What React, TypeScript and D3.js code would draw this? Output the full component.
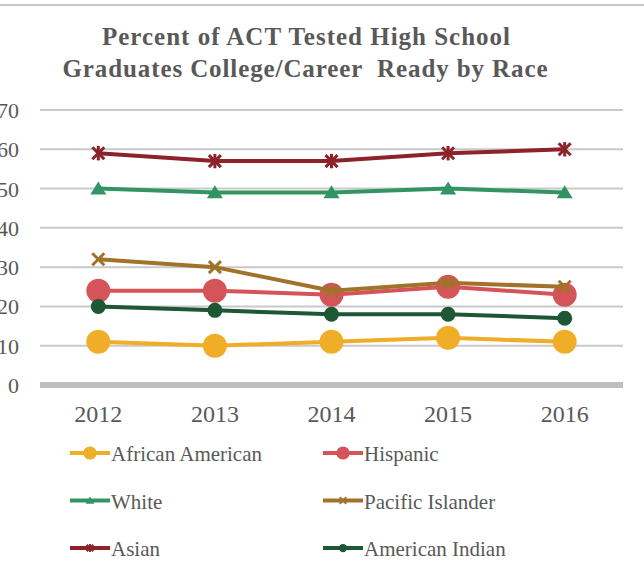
import React from 'react';
import * as d3 from 'd3';

const years = ['2012', '2013', '2014', '2015', '2016'];
const yTicks = [0, 10, 20, 30, 40, 50, 60, 70];

const africanAmerican = [11, 10, 11, 12, 11];
const hispanic = [24, 24, 23, 25, 23];
const white = [50, 49, 49, 50, 49];
const pacificIslander = [32, 30, 24, 26, 25];
const asian = [59, 57, 57, 59, 60];
const americanIndian = [20, 19, 18, 18, 17];

const seriesNames = ['African American', 'Hispanic', 'White', 'Pacific Islander', 'Asian', 'American Indian'];
const seriesColors = ['#F0AD28', '#D45459', '#339463', '#A1722A', '#8C232A', '#1D5733'];
const seriesMarkers = ['bigCircle', 'bigCircle', 'triangle', 'x', 'star', 'smallCircle'];
const seriesValues = [africanAmerican, hispanic, white, pacificIslander, asian, americanIndian];

const W = 644;
const H = 565;
const TEXT = '#595959';
const font = (size: number, bold = false) => ({
  fontFamily: "'Liberation Serif', serif",
  fontSize: size,
  fontWeight: bold ? 700 : 400,
});

const Marker = ({ kind, x, y, color, s = 1 }: { kind: string; x: number; y: number; color: string; s?: number }) => {
  if (kind === 'bigCircle') return <circle cx={x} cy={y} r={12 * s} fill={color} />;
  if (kind === 'smallCircle') return <circle cx={x} cy={y} r={7.5 * s} fill={color} />;
  if (kind === 'triangle') {
    const w = 8 * s;
    const h = 13 * s;
    return <path d={`M${x},${y - h * 0.55} L${x + w},${y + h * 0.45} L${x - w},${y + h * 0.45} Z`} fill={color} />;
  }
  const r = 6 * s;
  return (
    <g stroke={color} strokeWidth={s < 1 ? 2 : 3} fill="none">
      <line x1={x - r} y1={y - r} x2={x + r} y2={y + r} />
      <line x1={x - r} y1={y + r} x2={x + r} y2={y - r} />
      {kind === 'star' && <line x1={x} y1={y - r * 1.2} x2={x} y2={y + r * 1.2} />}
    </g>
  );
};

export default function App() {
  const x = d3.scaleBand().domain(years).range([40, 623]);
  const y = d3.scaleLinear().domain([0, 70]).range([385, 110]);
  const cx = (d: string) => (x(d) ?? 0) + x.bandwidth() / 2;

  const line = d3
    .line<number>()
    .x((_, i) => cx(years[i]))
    .y((d) => y(d));

  return (
    <svg width={W} height={H} style={{ position: 'absolute', left: 0, top: 0 }}>
      <rect width={W} height={H} fill="#fff" />
      <line x1={0} x2={W} y1={5} y2={5} stroke="#c8c8c8" strokeWidth={2} />

      <text x={306} y={45} textAnchor="middle" fill={TEXT} textLength={408} lengthAdjust="spacing"
        style={{ ...font(25, true), whiteSpace: 'pre' }}>
        Percent of ACT Tested High School
      </text>
      <text x={305} y={77} textAnchor="middle" fill={TEXT} textLength={485} lengthAdjust="spacing"
        style={{ ...font(25, true), whiteSpace: 'pre' }}>
        {'Graduates College/Career  Ready by Race'}
      </text>

      {yTicks.map((t) => (
        <g key={t}>
          {t > 0 && <line x1={40} x2={623} y1={y(t)} y2={y(t)} stroke="#c9c9c9" strokeWidth={2} />}
          <text x={19} y={y(t) + 8} textAnchor="end" fill={TEXT} style={font(22)}>
            {t}
          </text>
        </g>
      ))}
      <line x1={40} x2={623} y1={y(0)} y2={y(0)} stroke="#bfbfbf" strokeWidth={6} />

      {years.map((d) => (
        <text key={d} x={cx(d)} y={422} textAnchor="middle" fill={TEXT} style={font(24)}>
          {d}
        </text>
      ))}

      {seriesValues.map((vals, si) => (
        <g key={seriesNames[si]}>
          <path d={line(vals) ?? ''} fill="none" stroke={seriesColors[si]} strokeWidth={4} strokeLinejoin="round" />
          {vals.map((v, i) => (
            <Marker key={i} kind={seriesMarkers[si]} x={cx(years[i])} y={y(v)} color={seriesColors[si]} />
          ))}
        </g>
      ))}

      {seriesNames.map((name, si) => {
        const col = si % 2;
        const row = Math.floor(si / 2);
        const lx = col === 0 ? 70 : 323;
        const ly = 453 + row * 47.5;
        return (
          <g key={name}>
            <line x1={lx} x2={lx + 40} y1={ly} y2={ly} stroke={seriesColors[si]} strokeWidth={4} />
            <Marker kind={seriesMarkers[si]} x={lx + 20} y={ly} color={seriesColors[si]} s={0.55} />
            <text x={lx + 41} y={ly + 8} fill={TEXT} style={font(21)}>
              {name}
            </text>
          </g>
        );
      })}
    </svg>
  );
}
